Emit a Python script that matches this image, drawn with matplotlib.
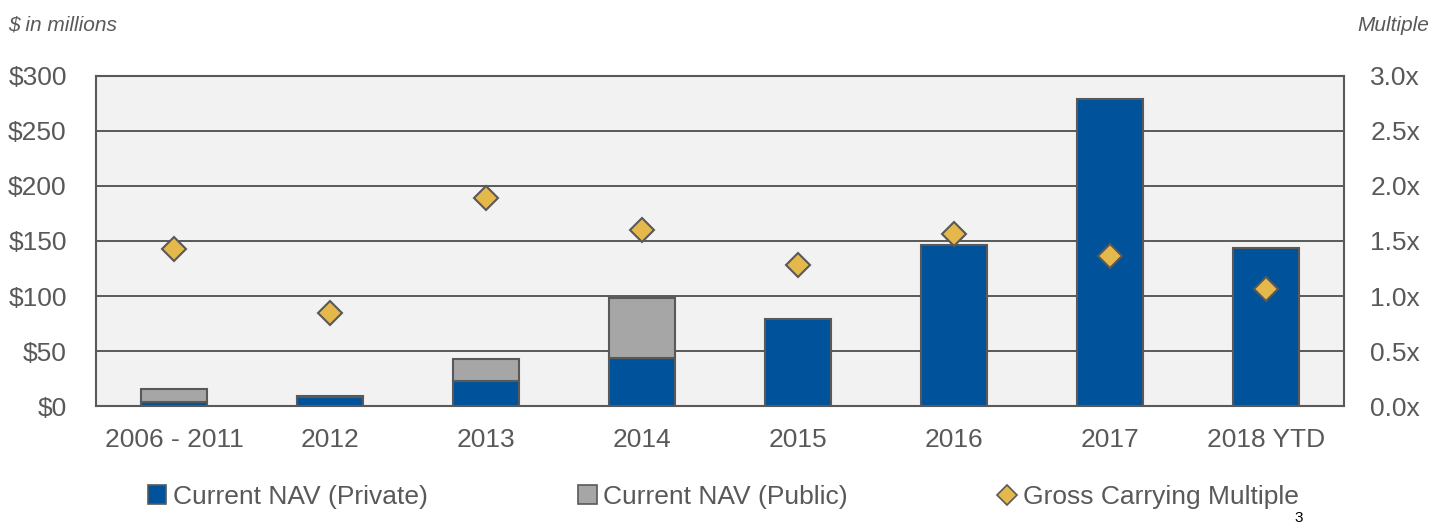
import numpy as np
import matplotlib
matplotlib.use('Agg')
import matplotlib.pyplot as plt
from matplotlib.lines import Line2D
from matplotlib.patches import Patch

plt.rcParams['font.family'] = ['Liberation Sans', 'DejaVu Sans']

# data
categories = ['2006 - 2011', '2012', '2013', '2014', '2015', '2016', '2017', '2018 YTD']
nav_private = [4, 8, 23, 44, 79, 146, 279, 144]
nav_public = [11.5, 1, 20, 54, 0, 0, 0, 0]
multiple = [1.43, 0.85, 1.89, 1.60, 1.28, 1.56, 1.36, 1.06]
y_ticks = [0, 50, 100, 150, 200, 250, 300]
y2_ticks = [0.0, 0.5, 1.0, 1.5, 2.0, 2.5, 3.0]

blue = '#00539B'
grey = '#A6A6A6'
gold = '#E5B84C'
edge = '#595959'
txt = '#595959'

fig = plt.figure(figsize=(14.47, 5.23), dpi=100)
ax = fig.add_axes([0.0663, 0.2237, 0.8625, 0.631])
ax.set_facecolor('#F2F2F2')

x = np.arange(len(categories))
w = 0.42
ax.bar(x, nav_private, w, color=blue, edgecolor=edge, linewidth=1.5, zorder=3)
pub = np.array(nav_public)
mask = pub > 0
ax.bar(x[mask], pub[mask], w, bottom=np.array(nav_private)[mask],
       color=grey, edgecolor=edge, linewidth=1.5, zorder=3)

ax.set_xlim(-0.5, len(categories) - 0.5)
ax.set_ylim(0, 300)
ax.set_yticks(y_ticks)
ax.set_yticklabels(['$%d' % v for v in y_ticks])
ax.set_xticks(x)
ax.set_xticklabels(categories)
ax.yaxis.grid(True, color=edge, linewidth=1.4, zorder=1)
ax.set_axisbelow(True)
ax.tick_params(axis='y', length=0, pad=21, labelsize=19, labelcolor=txt)
ax.tick_params(axis='x', length=0, pad=16, labelsize=19, labelcolor=txt)
for s in ax.spines.values():
    s.set_color(edge)
    s.set_linewidth(1.5)

ax2 = ax.twinx()
ax2.plot(x, multiple, linestyle='none', marker='D', markersize=12.5,
         markerfacecolor=gold, markeredgecolor=edge, markeredgewidth=1.5, zorder=5)
ax2.set_ylim(0, 3.0)
ax2.set_yticks(y2_ticks)
ax2.set_yticklabels(['%.1fx' % v for v in y2_ticks])
ax2.tick_params(axis='y', length=0, pad=19, labelsize=19, labelcolor=txt)
for s in ax2.spines.values():
    s.set_visible(False)

fig.text(0.0055, 0.952, '$ in millions', fontsize=15, style='italic',
         color=txt, ha='left', va='center')
fig.text(0.988, 0.952, 'Multiple', fontsize=15, style='italic',
         color=txt, ha='right', va='center')

handles = [
    Patch(facecolor=blue, edgecolor=edge, linewidth=1.2, label='Current NAV (Private)'),
    Patch(facecolor=grey, edgecolor=edge, linewidth=1.2, label='Current NAV (Public)'),
    Line2D([], [], linestyle='none', marker='D', markersize=10, markerfacecolor=gold,
           markeredgecolor=edge, markeredgewidth=1.2, label='Gross Carrying Multiple'),
]
leg = fig.legend(handles=handles, loc='center', bbox_to_anchor=(0.5, 0.05), ncol=3,
                 frameon=False, fontsize=19, handlelength=0.7, handleheight=0.7,
                 handletextpad=0.25, columnspacing=5.7)
for t in leg.get_texts():
    t.set_color(txt)

fig.text(0.8975, -0.004, '3', fontsize=11, color='black', ha='center', va='bottom')

fig.savefig('out.png', dpi=100)
